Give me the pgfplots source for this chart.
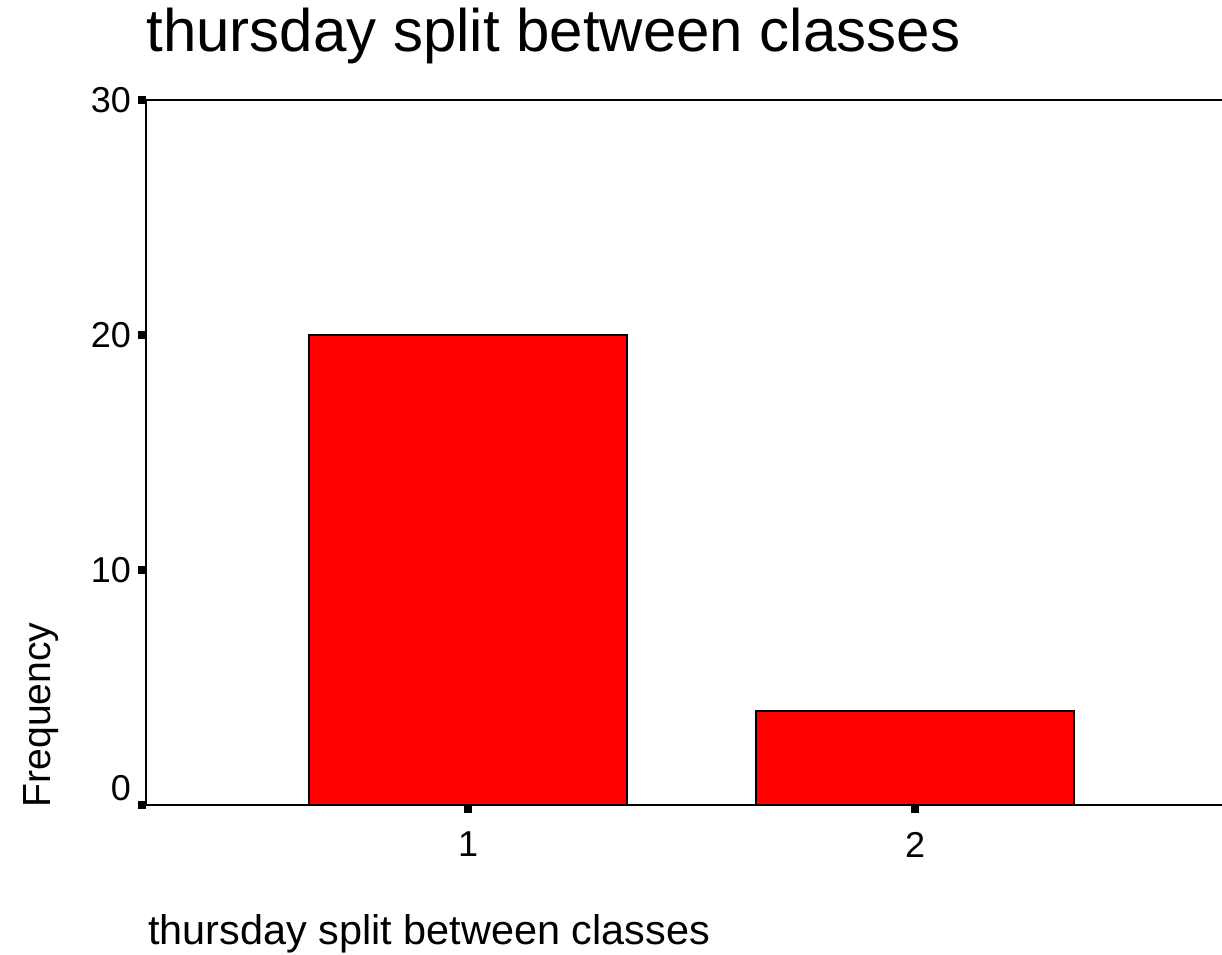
\documentclass[border=0pt]{standalone}
\usepackage{pgfplots}
\pgfplotsset{compat=1.18}
\usepackage{fontspec}
\setmainfont{Liberation Sans}

\begin{document}
\begin{tikzpicture}
\begin{axis}[
    scale only axis,
    width=538pt, height=352.5pt,
    xmin=0.2796, xmax=2.6868,
    ymin=0, ymax=30,
    axis lines*=left,
    axis line style={line width=1pt},
    xtick={1,2}, ytick={0,10,20,30},
    tick align=outside,
    major tick length=4pt,
    tick style={line width=3.6pt, black},
    /pgf/number format/assume math mode=true,
    tick label style={font=\fontsize{18}{21}\selectfont},
    xticklabel style={yshift=-6pt},
    yticklabel={\ifnum\ticknum=0 \raisebox{8.5pt}[\height][\depth]{\pgfmathprintnumber{\tick}}\else\pgfmathprintnumber{\tick}\fi},
    ybar, bar width=0.711,
    clip=false,
]
\addplot[fill=red, draw=black, line width=1pt] coordinates {(1,20) (2,4)};
\draw[line width=1pt] (rel axis cs:0,1) -- (rel axis cs:1,1);
\node[anchor=base west, inner sep=0, font=\fontsize{30}{34}\selectfont] at (rel axis cs:0,1.0681) {thursday split between classes};
\node[anchor=base west, inner sep=0, font=\fontsize{20.7}{24}\selectfont] at (rel axis cs:0.00186,-0.19858) {thursday split between classes};
\node[anchor=base west, inner sep=0, rotate=90, font=\fontsize{19.6}{23}\selectfont] at (rel axis cs:-0.08922,-0.00426) {Frequency};
\coordinate (bl) at (rel axis cs:-0.13569,-0.21277);
\coordinate (tr) at (rel axis cs:1,1.14184);
\end{axis}
\pgfresetboundingbox
\useasboundingbox (bl) rectangle (tr);
\end{tikzpicture}
\end{document}
